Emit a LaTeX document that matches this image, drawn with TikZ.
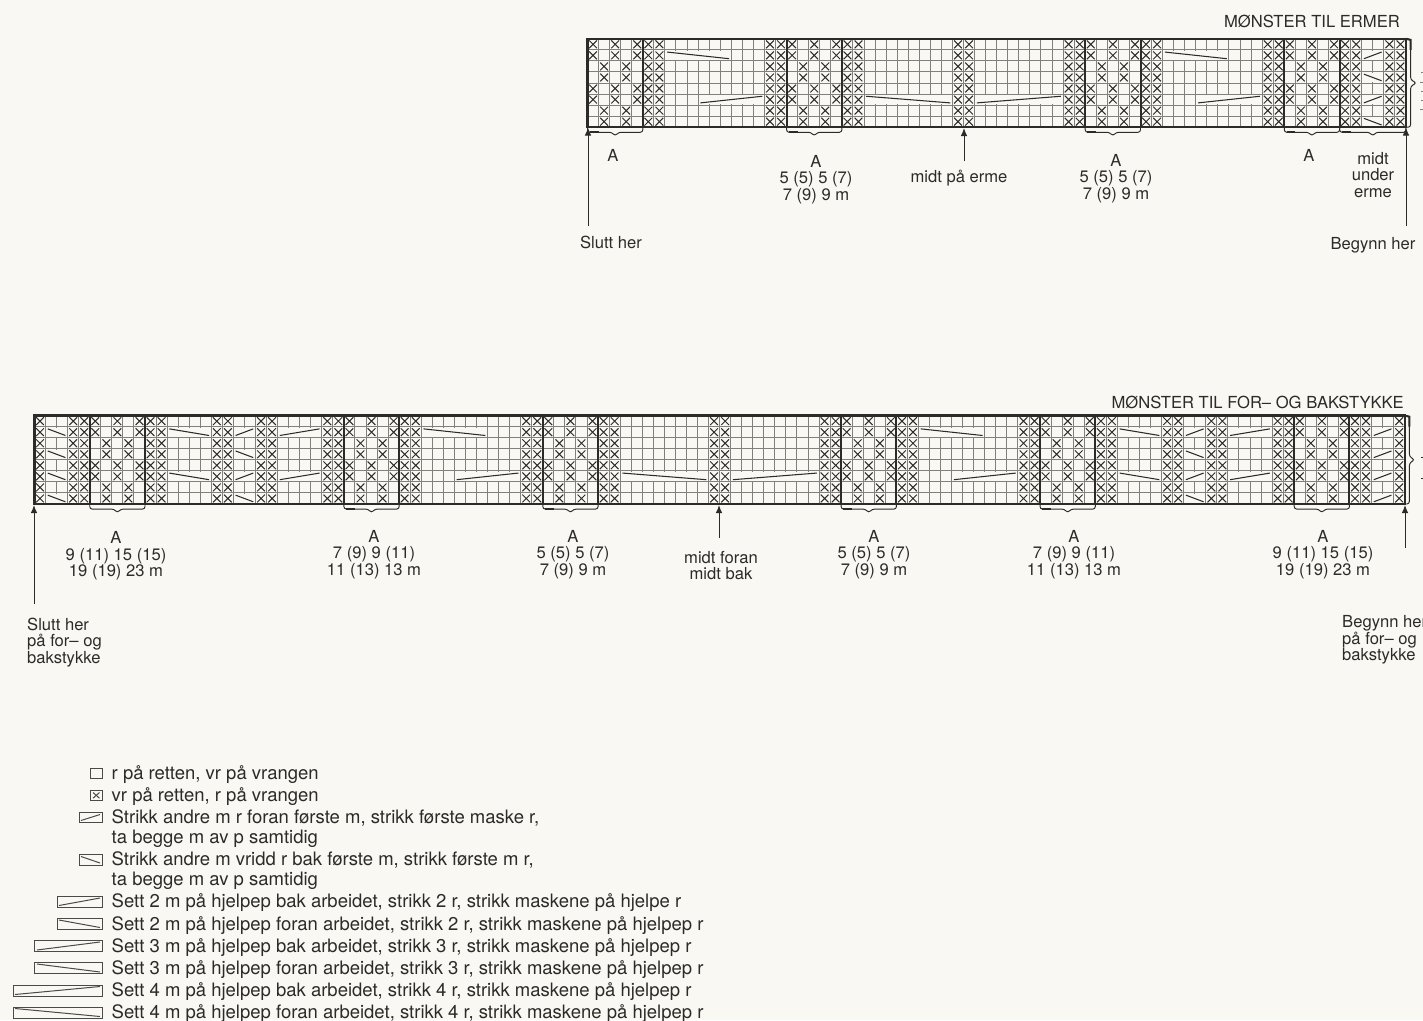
\documentclass[tikz,border=0pt]{standalone}
\usepackage{fontspec}
\setmainfont{TeX Gyre Heros}
\usetikzlibrary{arrows.meta}
\definecolor{paper}{HTML}{F9F8F3}
\definecolor{ink}{HTML}{2B2B29}
\definecolor{gridgrey}{HTML}{80807C}
\definecolor{legendgrey}{HTML}{4A4A48}
\tikzset{
  gridline/.style={gridgrey,line width=1pt},
  xmark/.style={ink,line width=1pt},
  frameline/.style={ink,line width=2.3pt,line cap=round},
  repeatline/.style={ink,line width=2pt},
  cableline/.style={ink,line width=1.05pt},
  braceline/.style={ink,line width=.95pt,rounded corners=2.5pt},
  pointer/.style={ink,line width=1pt,-{Latex[length=8pt,width=6.5pt]}},
  lbl/.style={text=ink,font=\fontsize{16.6}{16.6}\selectfont,align=center,inner sep=0pt},
  leftlbl/.style={lbl,align=left},
  keylbl/.style={text=ink,font=\fontsize{18.5}{19}\selectfont,anchor=base west,inner sep=0pt},
  keybox/.style={legendgrey,line width=1pt},
}
\newcommand{\xcell}[2]{\draw[xmark] ({#1-.85},{#2-.85})--({#1-.15},{#2-.15}) ({#1-.15},{#2-.85})--({#1-.85},{#2-.15});}
\newcommand{\xcols}[1]{\foreach \c in {#1} {\foreach \r in {1,...,8} {\xcell{\c}{\r}}}}
\newcommand{\patA}[1]{\foreach \a in {#1} {
  \foreach \r in {1,2,5,6} {\xcell{\a}{\r}\xcell{\a+2}{\r}\xcell{\a+4}{\r}}
  \foreach \r in {3,4,7,8} {\xcell{\a+1}{\r}\xcell{\a+3}{\r}}}}
\newcommand{\cabclear}[3]{\fill[paper] ({#1-1+.1},{#3-1+.1}) rectangle ({#2-.1},{#3-.1});}
\newcommand{\cabup}[3]{\cabclear{#1}{#2}{#3}\draw[cableline] ({#1-1+.2},{#3-.2})--({#2-.2},{#3-.8});}
\newcommand{\cabdn}[3]{\cabclear{#1}{#2}{#3}\draw[cableline] ({#1-1+.2},{#3-.8})--({#2-.2},{#3-.2});}
\newcommand{\bracea}[2]{\draw[braceline] (#1,8)--(#1,8.46)--({(#1+#2)/2-.3},8.46)--({(#1+#2)/2},8.8)--({(#1+#2)/2+.3},8.46)--(#2,8.46)--(#2,8);}
\newcommand{\braceb}[2]{\bracea{#1}{#2}\draw[repeatline] ({#1+.2},8.46)--({#1+1},8.46);}
\begin{document}
\begin{tikzpicture}[x=1pt,y=-1pt,line cap=butt]
  \useasboundingbox (0,0) rectangle (1423,1020);
  \fill[paper] (0,0) rectangle (1423,1020);
  % sleeve chart
  \begin{scope}[shift={(587.5,38.8)},x=11.06pt,y=-11.05pt]
    \foreach \i in {1,...,73} \draw[gridline] (\i,0)--(\i,8);
    \foreach \i in {1,...,7} \draw[gridline] (0,\i)--(74,\i);
    \cabdn{8}{13}{2}
    \cabup{11}{16}{6}
    \cabdn{26}{33}{6}
    \cabup{36}{43}{6}
    \cabdn{53}{58}{2}
    \cabup{56}{61}{6}
    \cabup{71}{72}{2}
    \cabdn{71}{72}{4}
    \cabup{71}{72}{6}
    \cabdn{71}{72}{8}
    \xcols{6,7,17,18,24,25,34,35,44,45,51,52,62,63,69,70,73,74}
    \patA{1,19,46,64}
    \foreach \i in {5,18,23,45,50,63,68} \draw[repeatline] (\i,0)--(\i,8);
    \draw[frameline] (0,0) rectangle (74,8);
    \braceb{0}{5}
    \braceb{18}{23}
    \braceb{45}{50}
    \braceb{63}{68}
    \braceb{68}{74}
    \draw[braceline] (74,0)--(74.42,0)--(74.42,3.7)--(74.95,4)--(74.42,4.3)--(74.42,8)--(74,8);
    \draw[repeatline] (74,0)--(74.42,.1)--(74.42,1);
  \end{scope}
  % body chart
  \begin{scope}[shift={(34.5,415.6)},x=11.05pt,y=-11.05pt]
    \foreach \i in {1,...,123} \draw[gridline] (\i,0)--(\i,8);
    \foreach \i in {1,...,7} \draw[gridline] (0,\i)--(124,\i);
    \foreach \r in {2,4,6,8} {\cabdn{2}{3}{\r}}
    \cabdn{13}{16}{2}
    \cabdn{13}{16}{6}
    \cabup{19}{20}{2}
    \cabdn{19}{20}{4}
    \cabup{19}{20}{6}
    \cabdn{19}{20}{8}
    \cabup{23}{26}{2}
    \cabup{23}{26}{6}
    \cabdn{36}{41}{2}
    \cabup{39}{44}{6}
    \cabdn{54}{61}{6}
    \cabup{64}{71}{6}
    \cabdn{81}{86}{2}
    \cabup{84}{89}{6}
    \cabdn{99}{102}{2}
    \cabdn{99}{102}{6}
    \cabup{105}{106}{2}
    \cabdn{105}{106}{4}
    \cabup{105}{106}{6}
    \cabdn{105}{106}{8}
    \cabup{109}{112}{2}
    \cabup{109}{112}{6}
    \foreach \r in {2,4,6,8} {\cabup{122}{123}{\r}}
    \xcols{1,4,5,11,12,17,18,21,22,27,28,34,35,45,46,52,53,62,63,72,73,79,80,90,91,97,98,103,104,107,108,113,114,120,121,124}
    \patA{6,29,47,74,92,115}
    \foreach \i in {5,10,28,33,46,51,73,78,91,96,114,119} \draw[repeatline] (\i,0)--(\i,8);
    \draw[frameline] (0,0) rectangle (124,8);
    \bracea{5}{10}
    \braceb{28}{33}
    \braceb{46}{51}
    \braceb{73}{78}
    \braceb{91}{96}
    \bracea{114}{119}
    \draw[braceline] (124,0)--(124.42,0)--(124.42,3.7)--(124.9,4)--(124.42,4.3)--(124.42,8)--(124,8);
    \draw[repeatline] (124,0)--(124.42,.1)--(124.42,1);
  \end{scope}
  % cut off notes at the right edge
  \draw[gridgrey,line width=1pt] (1421,72)--(1423,72) (1420,82)--(1423,82) (1421,91)--(1423,91) (1421,100)--(1423,100) (1420,109)--(1423,109);
  \draw[ink,line width=.8pt] (1421,457)--(1423,457) (1421,478)--(1423,478);
  % sleeve labels
  \node[lbl,anchor=east] (titleE) at (1400,21) {MØNSTER TIL ERMER};
  \node[lbl] (aE1) at (613,155) {A};
  \node[lbl] (aE2) at (816,179.5) {A\\5 (5) 5 (7)\\7 (9) 9 m};
  \node[lbl] (midE) at (959,178.5) {midt på erme};
  \node[lbl] (aE3) at (1116,178.5) {A\\5 (5) 5 (7)\\7 (9) 9 m};
  \node[lbl] (aE4) at (1309,155) {A};
  \node[lbl] (underE) at (1373,175) {midt\\under\\erme};
  \node[lbl] (endE) at (611,242) {Slutt her};
  \node[lbl] (startE) at (1373,245) {Begynn her};
  \coordinate (endEa) at (588,226);
  \coordinate (endEb) at (588,127.5);
  \coordinate (midEa) at (964,161);
  \coordinate (midEb) at (964,128);
  \coordinate (startEa) at (1406,226);
  \coordinate (startEb) at (1406,127.5);
  \draw[pointer] (endEa)--(endEb);
  \draw[pointer] (midEa)--(midEb);
  \draw[pointer] (startEa)--(startEb);
  % body labels
  \node[lbl,anchor=east] (titleB) at (1404,402) {MØNSTER TIL FOR– OG BAKSTYKKE};
  \node[lbl] (aB1) at (116,556) {A\\9 (11) 15 (15)\\19 (19) 23 m};
  \node[lbl] (aB2) at (374,554.5) {A\\7 (9) 9 (11)\\11 (13) 13 m};
  \node[lbl] (aB3) at (573,554.5) {A\\5 (5) 5 (7)\\7 (9) 9 m};
  \node[lbl] (midB) at (721,565.5) {midt foran\\midt bak};
  \node[lbl] (aB4) at (874,554.5) {A\\5 (5) 5 (7)\\7 (9) 9 m};
  \node[lbl] (aB5) at (1074,554.5) {A\\7 (9) 9 (11)\\11 (13) 13 m};
  \node[lbl] (aB6) at (1323,554.5) {A\\9 (11) 15 (15)\\19 (19) 23 m};
  \node[leftlbl,anchor=west] (endB) at (27,642.5) {Slutt her\\på for– og\\bakstykke};
  \node[leftlbl,anchor=west] (startB) at (1342,640) {Begynn her\\på for– og\\bakstykke};
  \coordinate (endBa) at (34,604);
  \coordinate (endBb) at (34,505);
  \coordinate (midBa) at (719,538);
  \coordinate (midBb) at (719,505);
  \coordinate (startBa) at (1405,548);
  \coordinate (startBb) at (1405,505);
  \draw[pointer] (endBa)--(endBb);
  \draw[pointer] (midBa)--(midBb);
  \draw[pointer] (startBa)--(startBb);
  % key
  \draw[keybox] (90.5,768.3) rectangle (102,778.6);
  \draw[keybox] (90.5,790) rectangle (102,800.7);
  \draw[keybox] (93,792.5)--(99.5,798.2) (99.5,792.5)--(93,798.2);
  \draw[keybox] (79,812.3) rectangle (102,822.6);
  \draw[keybox] (81,820.5)--(100,814.5);
  \draw[keybox] (79,854.2) rectangle (102,865);
  \draw[keybox] (81,856.5)--(100,863);
  \draw[keybox] (57,896.3) rectangle (102,907);
  \draw[keybox] (59,905.5)--(100,898);
  \draw[keybox] (57,918.3) rectangle (102,929);
  \draw[keybox] (59,920)--(100,927.5);
  \draw[keybox] (34.5,940.5) rectangle (102,951.5);
  \draw[keybox] (37,950)--(100,942);
  \draw[keybox] (34.5,962.5) rectangle (102,973.5);
  \draw[keybox] (37,964)--(100,972);
  \draw[keybox] (13,985) rectangle (102,996);
  \draw[keybox] (15,994.5)--(100,986.5);
  \draw[keybox] (13,1007) rectangle (102,1018);
  \draw[keybox] (15,1008.5)--(100,1016.5);
  \node[keylbl] (key1) at (111.5,779) {r på retten, vr på vrangen};
  \node[keylbl] (key2) at (111.5,801) {vr på retten, r på vrangen};
  \node[keylbl] (key3) at (111.5,823) {Strikk andre m r foran første m, strikk første maske r,};
  \node[keylbl] (key3b) at (111.5,843) {ta begge m av p samtidig};
  \node[keylbl] (key4) at (111.5,865) {Strikk andre m vridd r bak første m, strikk første m r,};
  \node[keylbl] (key4b) at (111.5,885) {ta begge m av p samtidig};
  \node[keylbl] (key5) at (111.5,907) {Sett 2 m på hjelpep bak arbeidet, strikk 2 r, strikk maskene på hjelpe r};
  \node[keylbl] (key6) at (111.5,930) {Sett 2 m på hjelpep foran arbeidet, strikk 2 r, strikk maskene på hjelpep r};
  \node[keylbl] (key7) at (111.5,952) {Sett 3 m på hjelpep bak arbeidet, strikk 3 r, strikk maskene på hjelpep r};
  \node[keylbl] (key8) at (111.5,974) {Sett 3 m på hjelpep foran arbeidet, strikk 3 r, strikk maskene på hjelpep r};
  \node[keylbl] (key9) at (111.5,996) {Sett 4 m på hjelpep bak arbeidet, strikk 4 r, strikk maskene på hjelpep r};
  \node[keylbl] (key10) at (111.5,1018) {Sett 4 m på hjelpep foran arbeidet, strikk 4 r, strikk maskene på hjelpep r};
\end{tikzpicture}
\end{document}
